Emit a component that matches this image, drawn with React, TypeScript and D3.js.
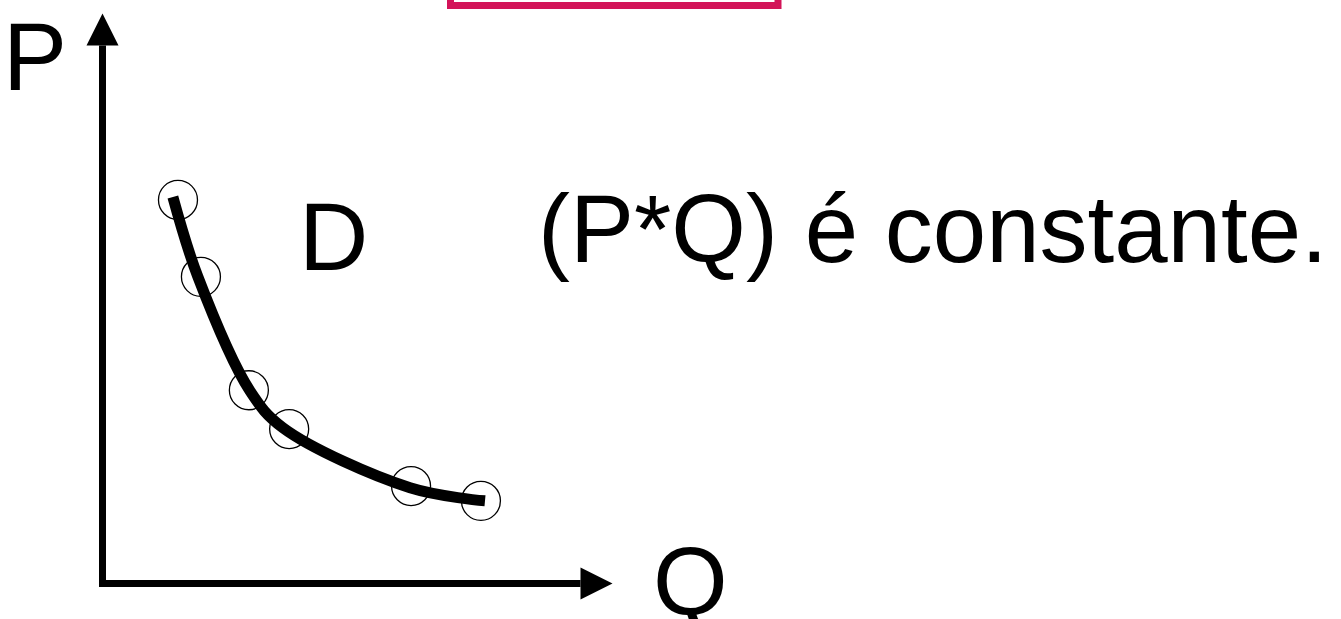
import React from 'react'
import * as d3 from 'd3'

// Demand curve D (P*Q constant)
const curveQ = [1.38, 1.87, 2.89, 3.54, 6.03, 7.5]
const curveP = [6.78, 5.38, 3.38, 2.73, 1.68, 1.45]

// Circled observation points
const pointQ = [1.48, 1.93, 2.87, 3.66, 6.05, 7.42]
const pointP = [6.73, 5.38, 3.39, 2.71, 1.71, 1.45]

const axisLabels = ['P', 'Q']
const curveLabel = 'D'
const note = '(P*Q) é constante.'

const App = () => {
  const width = 1341
  const height = 619
  const font = '"Liberation Sans", Arial, sans-serif'

  // Scales
  const xScale = d3.scaleLinear().domain([0, 10]).range([102.5, 612.5])
  const yScale = d3.scaleLinear().domain([0, 10]).range([583.5, 13.5])

  const x0 = xScale(0)
  const y0 = yScale(0)
  const xMax = xScale(10)
  const yMax = yScale(10)
  const head = 32

  const curveData = curveQ.map((q, i) => [q, curveP[i]])
  const pointData = pointQ.map((q, i) => [q, pointP[i]])

  const line = d3.line()
    .x(d => xScale(d[0]))
    .y(d => yScale(d[1]))
    .curve(d3.curveCatmullRom.alpha(0.5))

  return (
    <svg
      width={width}
      height={height}
      style={{ position: 'absolute', left: 0, top: 0, background: '#fff' }}
    >
      {/* pink box cut by the top edge */}
      <rect x={450.5} y={-100} width={327.5} height={105.5}
        fill="none" stroke="#d31459" strokeWidth={7} />

      {/* axes */}
      <line x1={x0} y1={y0 + 3.5} x2={x0} y2={yMax + head}
        stroke="#000" strokeWidth={7} />
      <path d={`M${x0},${yMax} L${x0 - 16},${yMax + head} L${x0 + 16},${yMax + head} Z`} fill="#000" />
      <line x1={x0 - 3.5} y1={y0} x2={xMax - head} y2={y0}
        stroke="#000" strokeWidth={7} />
      <path d={`M${xMax},${y0} L${xMax - head},${y0 - 16} L${xMax - head},${y0 + 16} Z`} fill="#000" />

      <g fontFamily={font} fontSize={96} fill="#000">
        <text x={3} y={90}>{axisLabels[0]}</text>
        <text x={653} y={615}>{axisLabels[1]}</text>
        <text x={299} y={270}>{curveLabel}</text>
        <text x={538} y={262}>{note}</text>
      </g>

      {/* curve */}
      <path d={line(curveData)} fill="none" stroke="#000" strokeWidth={11} />

      {/* circles */}
      {pointData.map((d, i) => (
        <circle key={i} cx={xScale(d[0])} cy={yScale(d[1])} r={19.5}
          fill="none" stroke="#000" strokeWidth={1.3} />
      ))}
    </svg>
  )
}

export default App
